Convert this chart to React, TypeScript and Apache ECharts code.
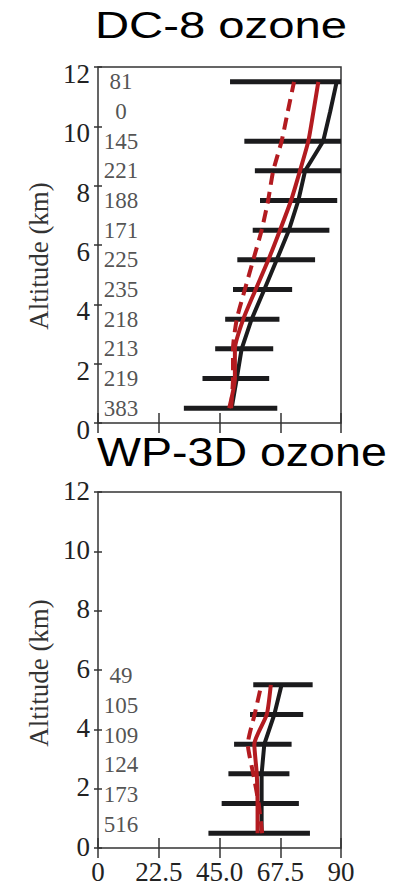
import React, { useEffect, useRef } from "react";
import * as echarts from "echarts";

// Altitude bins (km)
const DC8_ALT = [0.5, 1.5, 2.5, 3.5, 4.5, 5.5, 6.5, 7.5, 8.5, 9.5, 10.5, 11.5];
const DC8_COUNTS = [383, 219, 213, 218, 235, 225, 171, 188, 221, 145, 0, 81];
const DC8_LOW = [31.8, 38.7, 43.4, 47.1, 50.0, 51.6, 57.3, 60.0, 58.1, 54.2, null, 48.9];
const DC8_HIGH = [66.4, 63.4, 64.9, 67.2, 71.9, 80.4, 85.7, 88.6, 90, 90, null, 90];
const DC8_OBS = [49.5, 51.4, 53.2, 56.9, 61.6, 66.2, 70.7, 74.2, 76.7, 83.4, 86.0, 88.4];
const DC8_MODEL = [48.6, 50.7, 50.7, 53.8, 58.4, 63.1, 67.4, 71.5, 74.8, 77.9, 79.8, 81.6];
const DC8_MODEL_ALT = [49.3, 50.0, 50.0, 51.4, 54.4, 57.5, 60.6, 63.0, 64.9, 68.0, 70.3, 72.6];

const WP3D_ALT = [0.5, 1.5, 2.5, 3.5, 4.5, 5.5];
const WP3D_COUNTS = [516, 173, 124, 109, 105, 49];
const WP3D_LOW = [40.9, 45.8, 48.3, 50.4, 56.3, 57.5];
const WP3D_HIGH = [78.5, 74.4, 70.9, 71.7, 76.0, 79.5];
const WP3D_OBS = [60.6, 60.6, 60.6, 61.6, 65.3, 68.0];
const WP3D_MODEL = [59.1, 59.1, 58.8, 57.9, 62.5, 64.0];
const WP3D_MODEL_ALT = [60.8, 59.5, 57.5, 55.5, 58.0, 60.5];

const X_TICKS = [0, 22.5, 45.0, 67.5, 90];
const TITLES = ["DC-8 ozone", "WP-3D ozone"];
const Y_NAME = "Altitude (km)";

const LABEL_X = 8.5;
const SERIF = '"Liberation Serif", "Times New Roman", serif';
const SANS = '"Liberation Sans", Arial, sans-serif';
const RED = "#b31b20";
const BLACK = "#1b1b1d";
const AXIS = "#333";

function App() {
  const ref = useRef<HTMLDivElement>(null);
  useEffect(() => {
    if (!ref.current) return;
    const chart = echarts.init(ref.current, null, { renderer: "svg" });

    const grids = [
      { left: 98, top: 67, width: 243, height: 356 },
      { left: 98, top: 492, width: 243, height: 356 },
    ];

    const xAxes: any[] = [];
    const yAxes: any[] = [];
    [0, 1].forEach((g) => {
      const base = {
        type: "value",
        gridIndex: g,
        min: 0,
        max: 90,
        interval: 22.5,
        axisLine: { show: false },
        splitLine: { show: false },
        axisTick: { show: true, inside: true, length: 10, lineStyle: { color: AXIS, width: 1.5 } },
      };
      xAxes.push({
        ...base,
        position: "bottom",
        axisLabel: {
          show: g === 1,
          fontFamily: SERIF,
          fontSize: 27,
          color: "#222",
          margin: 10,
          formatter: (v: number) => {
            const i = X_TICKS.findIndex((t) => Math.abs(t - v) < 1e-6);
            return i >= 0 ? (v === 0 || v === 90 ? String(v) : v.toFixed(1)) : "";
          },
        },
      });
      xAxes.push({ ...base, position: "top", axisLabel: { show: false } });
      const ybase = {
        type: "value",
        gridIndex: g,
        min: 0,
        max: 12,
        interval: 2,
        axisLine: { show: false },
        splitLine: { show: false },
        axisTick: { show: true, inside: true, length: 4, lineStyle: { color: AXIS, width: 1.5 } },
      };
      yAxes.push({
        ...ybase,
        position: "left",
        name: Y_NAME,
        nameLocation: "middle",
        nameGap: 46,
        nameTextStyle: {
          fontFamily: SERIF,
          fontSize: 27,
          color: "#333",
          padding: g === 0 ? [0, 22, 0, 0] : [0, 6, 0, 0],
        },
        axisLabel: {
          show: true,
          margin: 8,
          formatter: (v: number) => `{t|${v}}`,
          rich: {
            t: {
              fontFamily: SERIF,
              fontSize: 27,
              color: "#222",
              padding: g === 0 ? [14, 0, 0, 0] : [0, 0, 3, 0],
            },
          },
        },
      });
      yAxes.push({ ...ybase, position: "right", axisLabel: { show: false } });
    });

    const errRender = (params: any, api: any) => {
      const lo = api.value(1);
      const hi = api.value(2);
      if (lo == null || hi == null || isNaN(lo) || isNaN(hi)) return null;
      const y = api.value(0);
      const p1 = api.coord([lo, y]);
      const p2 = api.coord([hi, y]);
      return {
        type: "line",
        shape: { x1: p1[0], y1: p1[1], x2: p2[0], y2: p2[1] },
        style: { stroke: BLACK, lineWidth: 5 },
      };
    };

    const panel = (
      g: number,
      alt: number[],
      counts: number[],
      low: (number | null)[],
      high: (number | null)[],
      obs: number[],
      model: number[],
      modelAlt: number[],
      labelOffset: number
    ) => {
      const xi = g * 2;
      const yi = g * 2;
      return [
        {
          type: "custom",
          xAxisIndex: xi,
          yAxisIndex: yi,
          renderItem: errRender,
          encode: { x: [1, 2], y: 0 },
          data: alt.map((a, i) => [a, low[i] == null ? NaN : low[i], high[i] == null ? NaN : high[i]]),
          z: 2,
        },
        {
          type: "line",
          xAxisIndex: xi,
          yAxisIndex: yi,
          data: alt.map((a, i) => [obs[i], a]),
          showSymbol: false,
          symbol: "none",
          lineStyle: { color: BLACK, width: 4 },
          z: 3,
        },
        {
          type: "line",
          xAxisIndex: xi,
          yAxisIndex: yi,
          data: alt.map((a, i) => [modelAlt[i], a]),
          showSymbol: false,
          symbol: "none",
          smooth: 0.2,
          lineStyle: { color: RED, width: 4, type: [12, 7] },
          z: 4,
        },
        {
          type: "line",
          xAxisIndex: xi,
          yAxisIndex: yi,
          data: alt.map((a, i) => [model[i], a]),
          showSymbol: false,
          symbol: "none",
          smooth: 0.2,
          lineStyle: { color: RED, width: 4 },
          z: 5,
        },
        {
          type: "scatter",
          xAxisIndex: xi,
          yAxisIndex: yi,
          symbolSize: 0,
          data: alt.map((a, i) => [LABEL_X, a + labelOffset, counts[i]]),
          label: {
            show: true,
            position: "inside",
            formatter: (p: any) => String(p.value[2]),
            fontFamily: SERIF,
            fontSize: 23,
            color: "#262626",
          },
          z: 6,
        },
      ];
    };

    const option: any = {
      animation: false,
      backgroundColor: "#fff",
      grid: grids.map((g) => ({ ...g, show: true, borderColor: AXIS, borderWidth: 1.5, backgroundColor: "transparent" })),
      xAxis: xAxes,
      yAxis: yAxes,
      series: [
        ...panel(0, DC8_ALT, DC8_COUNTS, DC8_LOW, DC8_HIGH, DC8_OBS, DC8_MODEL, DC8_MODEL_ALT, 0),
        ...panel(1, WP3D_ALT, WP3D_COUNTS, WP3D_LOW, WP3D_HIGH, WP3D_OBS, WP3D_MODEL, WP3D_MODEL_ALT, 0.3),
      ],
      graphic: [
        {
          type: "text",
          x: 95,
          y: 25,
          scaleX: 1.277,
          style: { text: TITLES[0], font: `37px ${SANS}`, fill: "#000", align: "left", verticalAlign: "middle" },
          z: 10,
        },
        {
          type: "text",
          x: 97,
          y: 452,
          scaleX: 1.136,
          style: { text: TITLES[1], font: `41px ${SANS}`, fill: "#000", align: "left", verticalAlign: "middle" },
          z: 10,
        },
      ],
    };
    chart.setOption(option);
    return () => chart.dispose();
  }, []);
  return (
    <div
      ref={ref}
      style={{ position: "absolute", left: 0, top: 0, width: 404, height: 885, background: "#fff" }}
    />
  );
}

export default App;
